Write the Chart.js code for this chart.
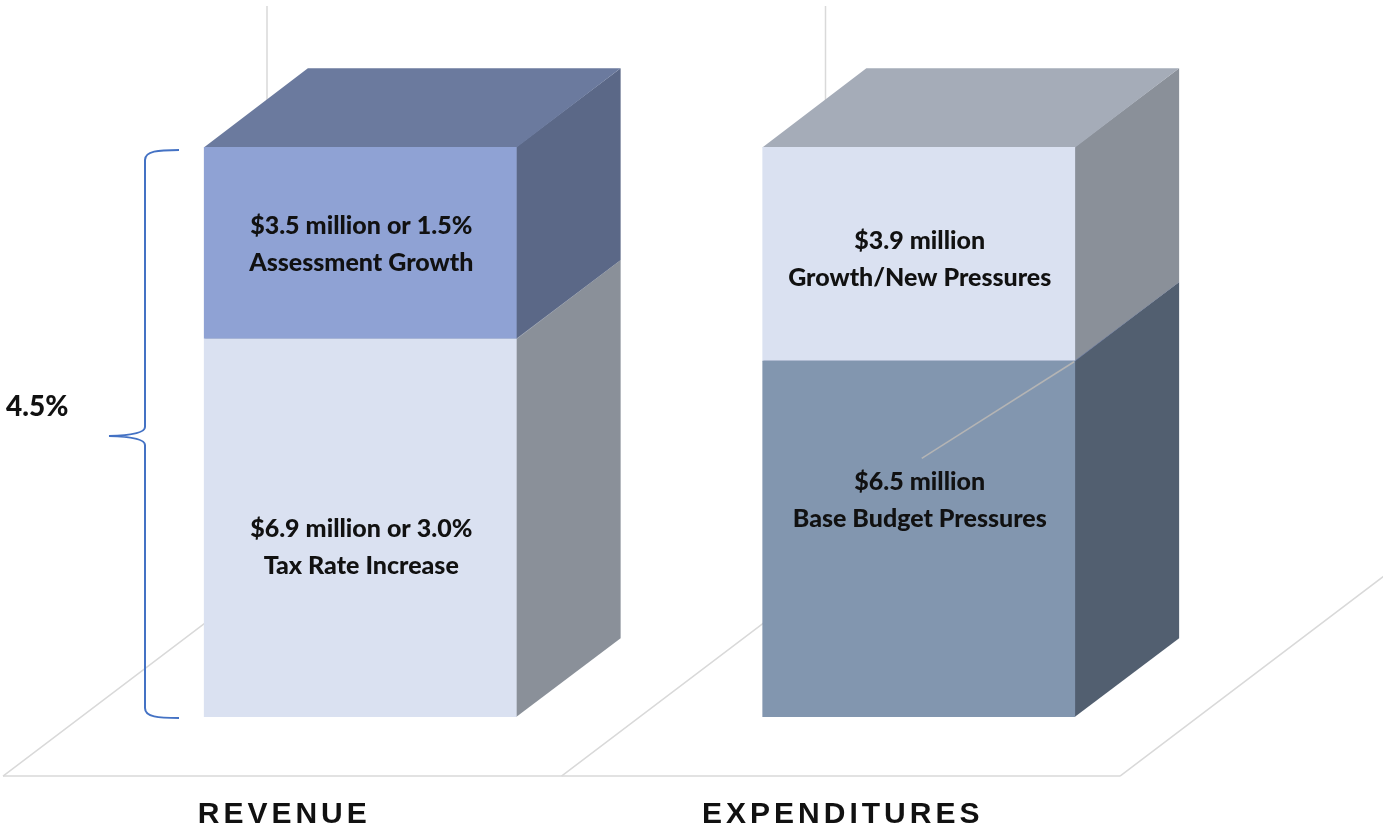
<!DOCTYPE html>
<html>
<head>
<meta charset="utf-8">
<script src="https://cdn.jsdelivr.net/npm/chart.js@4.4.1/dist/chart.umd.min.js"></script>
<style>
  html, body { margin: 0; padding: 0; background: #ffffff; }
  canvas { display: block; }
</style>
</head>
<body>
<canvas id="c" width="1383" height="836"></canvas>
<script>
// ---------- data ----------
const categories = ['REVENUE', 'EXPENDITURES'];
const baseValues = [6.9, 6.5];
const growthValues = [3.5, 3.9];
const baseLabels = [
  ['$6.9 million or 3.0%', 'Tax Rate Increase'],
  ['$6.5 million', 'Base Budget Pressures']
];
const growthLabels = [
  ['$3.5 million or 1.5%', 'Assessment Growth'],
  ['$3.9 million', 'Growth/New Pressures']
];
const bracketLabel = '4.5%';
const axisMax = 10.4;

// ---------- styles ----------
const baseFront = ['#DAE1F1', '#8296AF'];
const baseSide = ['#8A9099', '#525F70'];
const baseTop = ['#A5ACB8', '#6B7A9E'];
const growthFront = ['#8FA2D4', '#DAE1F1'];
const growthSide = ['#5B6887', '#8A9099'];
const growthTop = ['#6B7A9E', '#A5ACB8'];
const labelDy = [[20, -38], [2, 6]];   // per dataset, per category
const LINE_GAP = 37;
const SLOPE = 0.758;
const BAR_DX = 104, FRONT_DX = 78, BACK_DX = 186;

const threeD = {
  id: 'threeD',
  beforeDatasetsDraw(chart) {
    const ctx = chart.ctx;
    const ys = chart.scales.y;
    const L = chart.chartArea.left, R = chart.chartArea.right;
    const y0 = ys.getPixelForValue(0);
    const yMax = ys.getPixelForValue(ys.max);
    const catW = (R - L) / categories.length;
    ctx.save();
    ctx.strokeStyle = '#D9D9D9';
    ctx.lineWidth = 1.5;
    ctx.beginPath();
    ctx.moveTo(L - FRONT_DX, y0 + FRONT_DX * SLOPE);
    ctx.lineTo(R - FRONT_DX, y0 + FRONT_DX * SLOPE);
    ctx.stroke();
    for (let i = 0; i <= categories.length; i++) {
      const b = L + i * catW;
      ctx.beginPath();
      ctx.moveTo(b - FRONT_DX, y0 + FRONT_DX * SLOPE);
      ctx.lineTo(b + BACK_DX, y0 - BACK_DX * SLOPE);
      ctx.lineTo(b + BACK_DX, yMax - BACK_DX * SLOPE);
      ctx.stroke();
    }
    const dy = BAR_DX * SLOPE;
    const sides = [baseSide, growthSide];
    const tops = [baseTop, growthTop];
    for (let j = 0; j < categories.length; j++) {
      for (let d = 0; d < chart.data.datasets.length; d++) {
        const el = chart.getDatasetMeta(d).data[j];
        const left = el.x - el.width / 2, right = el.x + el.width / 2;
        const top = Math.min(el.y, el.base), bot = Math.max(el.y, el.base);
        ctx.fillStyle = sides[d][j];
        ctx.beginPath();
        ctx.moveTo(right - 0.5, bot);
        ctx.lineTo(right - 0.5, top);
        ctx.lineTo(right + BAR_DX, top - dy);
        ctx.lineTo(right + BAR_DX, bot - dy);
        ctx.closePath();
        ctx.fill();
        ctx.fillStyle = tops[d][j];
        ctx.beginPath();
        ctx.moveTo(left, top + 0.5);
        ctx.lineTo(left + BAR_DX, top - dy);
        ctx.lineTo(right + BAR_DX, top - dy);
        ctx.lineTo(right, top + 0.5);
        ctx.closePath();
        ctx.fill();
      }
    }
    ctx.restore();
  },
  afterDatasetsDraw(chart) {
    const ctx = chart.ctx;
    const xs = chart.scales.x, ys = chart.scales.y;
    const y0 = ys.getPixelForValue(0);
    const labelSets = [baseLabels, growthLabels];
    ctx.save();
    ctx.fillStyle = '#111111';
    ctx.font = '900 25px Lato, "Open Sans", sans-serif';
    ctx.textAlign = 'center';
    ctx.textBaseline = 'middle';
    for (let d = 0; d < chart.data.datasets.length; d++) {
      const meta = chart.getDatasetMeta(d);
      for (let j = 0; j < categories.length; j++) {
        const el = meta.data[j];
        const top = Math.min(el.y, el.base), bot = Math.max(el.y, el.base);
        const cy = (top + bot) / 2 + labelDy[d][j];
        const lines = labelSets[d][j];
        const startY = cy - (lines.length - 1) * LINE_GAP / 2;
        lines.forEach((t, k) => ctx.fillText(t, el.x + 1, startY + k * LINE_GAP));
        if (d === 0 && j === 1) {
          ctx.save();
          ctx.strokeStyle = '#B4B4B4';
          ctx.lineWidth = 1.5;
          ctx.beginPath();
          ctx.moveTo(el.x + el.width / 2 - 1, top + 1);
          ctx.lineTo(el.x + 3, startY - 24);
          ctx.stroke();
          ctx.restore();
        }
      }
    }
    // brace
    const total = baseValues[0] + growthValues[0];
    const bTop = ys.getPixelForValue(total) + 3;
    const bBot = y0 + 1;
    const mid = (bTop + bBot) / 2 + 2;
    const bx = 145, ex = 179, tip = 109;
    ctx.strokeStyle = '#4472C4';
    ctx.lineWidth = 2;
    ctx.beginPath();
    ctx.moveTo(ex, bTop);
    ctx.bezierCurveTo(158, bTop, bx, bTop + 1, bx, bTop + 10);
    ctx.lineTo(bx, mid - 9);
    ctx.quadraticCurveTo(bx, mid - 1, tip, mid);
    ctx.quadraticCurveTo(bx, mid + 1, bx, mid + 9);
    ctx.lineTo(bx, bBot - 10);
    ctx.bezierCurveTo(bx, bBot - 1, 158, bBot, ex, bBot);
    ctx.stroke();
    ctx.fillStyle = '#111111';
    ctx.font = '900 28px Lato, "Open Sans", sans-serif';
    ctx.textAlign = 'left';
    ctx.fillText(bracketLabel, 6, 407);
    ctx.font = 'bold 30px "Liberation Sans", Arial, sans-serif';
    ctx.letterSpacing = '4px';
    ctx.textAlign = 'center';
    categories.forEach((c, i) => {
      ctx.fillText(c, xs.getPixelForValue(i) - FRONT_DX + 2, 815);
    });
    ctx.restore();
  }
};

function build() {
  new Chart(document.getElementById('c'), {
    type: 'bar',
    data: {
      labels: categories,
      datasets: [
        { label: 'Base', data: baseValues, backgroundColor: baseFront, borderWidth: 0 },
        { label: 'Growth', data: growthValues, backgroundColor: growthFront, borderWidth: 0 }
      ]
    },
    options: {
      responsive: false,
      animation: false,
      events: [],
      layout: { padding: { left: 81, right: 185, top: 147, bottom: 119 } },
      datasets: { bar: { barPercentage: 0.56, categoryPercentage: 1.0 } },
      plugins: { legend: { display: false }, tooltip: { enabled: false }, title: { display: false } },
      scales: {
        x: { display: false, stacked: true },
        y: { display: false, stacked: true, min: 0, max: axisMax }
      }
    },
    plugins: [threeD]
  });
}
Promise.all([
  document.fonts.load('900 25px Lato'),
  document.fonts.load('bold 25px Lato'),
  document.fonts.load('bold 30px "Liberation Sans"')
]).catch(() => {}).then(build);
</script>
</body>
</html>
